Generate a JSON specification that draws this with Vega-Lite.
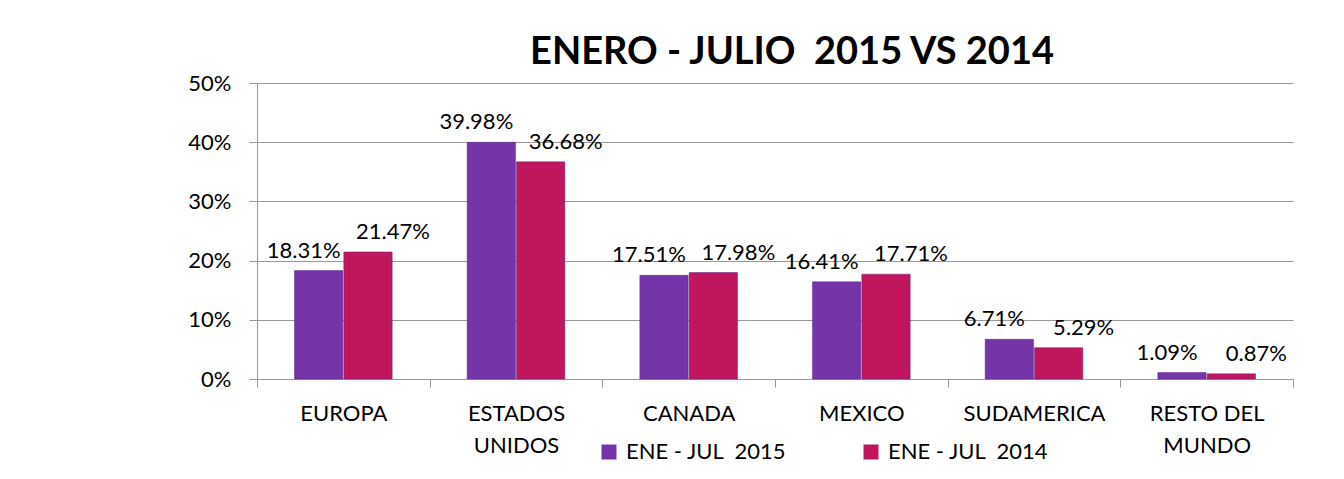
{
  "$schema": "https://vega.github.io/schema/vega-lite/v6.json",
  "width": 1036,
  "height": 296,
  "autosize": "none",
  "padding": {"left": 257, "top": 83, "right": 51, "bottom": 100},
  "background": "white",
  "config": {"font": "Lato", "view": {"stroke": null}},
  "title": {
    "text": "ENERO - JULIO\u00a0 2015 VS 2014",
    "font": "Lato",
    "fontSize": 38,
    "fontWeight": "bold",
    "color": "#000000",
    "anchor": "middle",
    "frame": "group",
    "dx": 17,
    "dy": 48,
    "baseline": "alphabetic",
    "offset": 18
  },
  "data": {
    "values": [
      {"region": "EUROPA", "serie": "ENE - JUL\u00a0 2015", "valor": 0.1831},
      {"region": "EUROPA", "serie": "ENE - JUL\u00a0 2014", "valor": 0.2147},
      {"region": "ESTADOS UNIDOS", "serie": "ENE - JUL\u00a0 2015", "valor": 0.3998},
      {"region": "ESTADOS UNIDOS", "serie": "ENE - JUL\u00a0 2014", "valor": 0.3668},
      {"region": "CANADA", "serie": "ENE - JUL\u00a0 2015", "valor": 0.1751},
      {"region": "CANADA", "serie": "ENE - JUL\u00a0 2014", "valor": 0.1798},
      {"region": "MEXICO", "serie": "ENE - JUL\u00a0 2015", "valor": 0.1641},
      {"region": "MEXICO", "serie": "ENE - JUL\u00a0 2014", "valor": 0.1771},
      {"region": "SUDAMERICA", "serie": "ENE - JUL\u00a0 2015", "valor": 0.0671},
      {"region": "SUDAMERICA", "serie": "ENE - JUL\u00a0 2014", "valor": 0.0529},
      {"region": "RESTO DEL MUNDO", "serie": "ENE - JUL\u00a0 2015", "valor": 0.0109},
      {"region": "RESTO DEL MUNDO", "serie": "ENE - JUL\u00a0 2014", "valor": 0.0087}
    ]
  },
  "encoding": {
    "x": {
      "field": "region",
      "type": "nominal",
      "sort": ["EUROPA", "ESTADOS UNIDOS", "CANADA", "MEXICO", "SUDAMERICA", "RESTO DEL MUNDO"],
      "scale": {"paddingInner": 0, "paddingOuter": 0},
      "axis": {
        "title": null,
        "labelAngle": 0,
        "labelFont": "Lato",
        "labelFontSize": 22,
        "labelColor": "#000000",
        "labelLineHeight": 32,
        "labelBaseline": "top",
        "labelPadding": 16,
        "labelExpr": "datum.value == 'ESTADOS UNIDOS' ? ['ESTADOS', 'UNIDOS'] : datum.value == 'RESTO DEL MUNDO' ? ['RESTO DEL', 'MUNDO'] : datum.value",
        "tickBand": "extent",
        "tickSize": 8,
        "tickColor": "#999999",
        "domainColor": "#999999",
        "grid": false
      }
    },
    "xOffset": {
      "field": "serie",
      "type": "nominal",
      "sort": ["ENE - JUL\u00a0 2015", "ENE - JUL\u00a0 2014"],
      "scale": {"paddingInner": 0.02, "paddingOuter": 0.76}
    },
    "y": {
      "field": "valor",
      "type": "quantitative",
      "scale": {"domain": [0, 0.5]},
      "axis": {
        "title": null,
        "values": [0, 0.1, 0.2, 0.3, 0.4, 0.5],
        "format": ".0%",
        "labelFont": "Lato",
        "labelFontSize": 22,
        "labelColor": "#000000",
        "labelPadding": 18,
        "tickSize": 8,
        "tickColor": "#999999",
        "domainColor": "#999999",
        "gridColor": "#999999",
        "grid": true
      }
    }
  },
  "layer": [
    {
      "mark": {"type": "bar", "stroke": "#5a2080", "strokeWidth": 0.8, "strokeOpacity": 0.6},
      "encoding": {
        "color": {
          "field": "serie",
          "type": "nominal",
          "scale": {"domain": ["ENE - JUL\u00a0 2015", "ENE - JUL\u00a0 2014"], "range": ["#7535a8", "#c0165d"]},
          "legend": {
            "title": null,
            "orient": "none",
            "direction": "horizontal",
            "legendX": 341,
            "legendY": 358,
            "symbolType": "square",
            "symbolSize": 225,
            "symbolStrokeWidth": 0,
            "labelFont": "Lato",
            "labelFontSize": 22,
            "labelColor": "#000000",
            "labelOffset": 6,
            "columnPadding": 73,
            "labelLimit": 300
          }
        }
      }
    },
    {
      "transform": [{"filter": "datum.serie == 'ENE - JUL\u00a0 2015'"}],
      "mark": {"type": "text", "dx": -15, "dy": -8, "baseline": "bottom", "font": "Lato", "fontSize": 22, "color": "#000000"},
      "encoding": {"text": {"field": "valor", "type": "quantitative", "format": ".2%"}}
    },
    {
      "transform": [{"filter": "datum.serie == 'ENE - JUL\u00a0 2014'"}],
      "mark": {"type": "text", "dx": 25, "dy": -8, "baseline": "bottom", "font": "Lato", "fontSize": 22, "color": "#000000"},
      "encoding": {"text": {"field": "valor", "type": "quantitative", "format": ".2%"}}
    }
  ]
}
